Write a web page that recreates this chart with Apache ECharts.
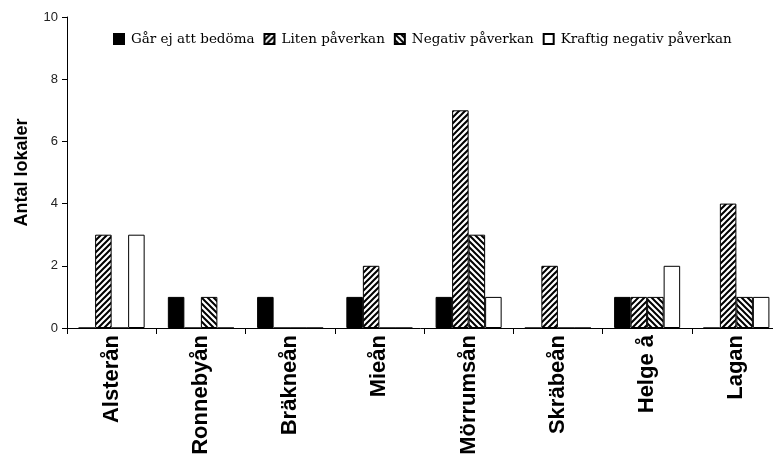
<!DOCTYPE html>
<html>
<head>
<meta charset="utf-8">
<script src="https://cdn.jsdelivr.net/npm/echarts@6/dist/echarts.min.js"></script>
<style>
  html, body { margin: 0; padding: 0; background: #fff; }
  #chart { width: 773px; height: 458px; }
</style>
</head>
<body>
<div id="chart"></div>
<script>
// Rivers (categories) and number of sites per impact class
const rivers = ['Alsterån', 'Ronnebyån', 'Bräkneån', 'Mieån', 'Mörrumsån', 'Skräbeån', 'Helge å', 'Lagan'];
const seriesNames = ['Går ej att bedöma', 'Liten påverkan', 'Negativ påverkan', 'Kraftig negativ påverkan'];
const garEjAttBedoma = [0, 1, 1, 1, 1, 0, 1, 0];
const litenPaverkan = [3, 0, 0, 2, 7, 2, 1, 4];
const negativPaverkan = [0, 1, 0, 0, 3, 0, 1, 1];
const kraftigNegativPaverkan = [3, 0, 0, 0, 1, 0, 2, 1];
const yTicks = [0, 2, 4, 6, 8, 10];

// Diagonal hatch tile: '/' or '\'
function hatch(dir) {
  const s = 6;
  const c = document.createElement('canvas');
  c.width = s; c.height = s;
  const g = c.getContext('2d');
  g.fillStyle = '#fff';
  g.fillRect(0, 0, s, s);
  g.strokeStyle = '#000';
  g.lineWidth = 2;
  g.beginPath();
  for (let k = -1; k <= 1; k++) {
    const o = k * s;
    if (dir === '/') {
      g.moveTo(o - 1, s + 1); g.lineTo(o + s + 1, -1);
    } else {
      g.moveTo(o - 1, -1); g.lineTo(o + s + 1, s + 1);
    }
  }
  g.stroke();
  return { image: c, repeat: 'repeat' };
}

const fills = ['#000', hatch('/'), hatch('\\'), '#fff'];
const values = [garEjAttBedoma, litenPaverkan, negativPaverkan, kraftigNegativPaverkan];

const chart = echarts.init(document.getElementById('chart'), null, { renderer: 'canvas' });
chart.setOption({
  animation: false,
  backgroundColor: '#fff',
  legend: {
    data: seriesNames,
    top: 27,
    left: 108,
    icon: 'rect',
    itemWidth: 10,
    itemHeight: 10,
    itemGap: 9,
    textStyle: { fontFamily: 'DejaVu Serif', fontSize: 13.5, color: '#000', padding: [0, 0, 0, 2] }
  },
  grid: { left: 67, right: -8, top: 17, bottom: 130, containLabel: false, outerBoundsMode: 'none' },
  xAxis: {
    type: 'category',
    data: rivers,
    axisLine: { lineStyle: { color: '#000', width: 1 } },
    axisTick: { show: true, length: 6, interval: 0, lineStyle: { color: '#000' } },
    axisLabel: {
      rotate: 90,
      interval: 0,
      margin: 7,
      fontFamily: 'Arial, Liberation Sans',
      fontWeight: 'bold',
      fontSize: 22,
      color: '#000'
    }
  },
  yAxis: {
    type: 'value',
    min: yTicks[0],
    max: yTicks[yTicks.length - 1],
    interval: 2,
    name: 'Antal lokaler',
    nameLocation: 'middle',
    nameGap: 36,
    nameTextStyle: { fontFamily: 'Arial, Liberation Sans', fontWeight: 'bold', fontSize: 18, color: '#000' },
    axisLine: { show: true, lineStyle: { color: '#000', width: 1 } },
    axisTick: { show: true, length: 5, lineStyle: { color: '#000' } },
    splitLine: { show: false },
    axisLabel: { fontFamily: 'Arial, Liberation Sans', fontSize: 13, color: '#222', margin: 9 }
  },
  series: seriesNames.map((name, i) => ({
    name: name,
    type: 'bar',
    data: values[i],
    barGap: '0%',
    barCategoryGap: '26%',
    itemStyle: { color: fills[i], borderColor: '#000', borderWidth: 1 }
  }))
});
</script>
</body>
</html>
